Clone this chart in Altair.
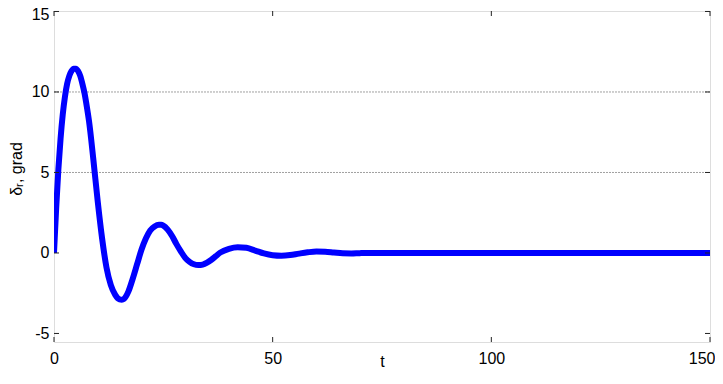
import altair as alt
import pandas as pd

# response curve
t_vals = [0, 0.5, 1, 1.5, 2, 2.5, 3, 3.5, 4, 4.5, 5, 5.5, 6, 6.5, 7, 7.5, 8, 9, 10, 11, 12, 13, 14, 15, 15.5,
          16, 17, 18, 19, 20, 21, 22, 23, 24, 24.5, 25, 26, 27, 28, 29, 30, 31, 32, 33, 34, 35, 36, 37,
          38, 40, 42, 44, 46, 48, 50, 52, 54, 56, 58, 60, 62, 64, 66, 68, 70, 74, 100, 150]
d_vals = [0, 2.8, 5.2, 7.1, 8.6, 9.7, 10.5, 11.0, 11.3, 11.45, 11.45, 11.3, 11.0, 10.5, 9.9, 9.1, 8.2, 5.8, 3.2, 0.9, -0.9, -2.0, -2.6, -2.88, -2.9,
          -2.85, -2.4, -1.6, -0.7, 0.2, 0.9, 1.4, 1.65, 1.75, 1.75, 1.7, 1.45, 1.05, 0.55, 0.1, -0.3, -0.55, -0.7, -0.75, -0.72, -0.6, -0.42, -0.2,
          0.02, 0.26, 0.36, 0.32, 0.15, -0.03, -0.14, -0.17, -0.13, -0.04, 0.04, 0.09, 0.08, 0.03, -0.02, -0.03, -0.01, 0, 0, 0]

x_ticks = [0, 50, 100, 150]
y_ticks = [-5, 0, 5, 10, 15]
grid_y = [5, 10]

W, H = 656, 331
XDOM = [0, 150]
YDOM = [-5.53, 15.03]

df = pd.DataFrame({"t": t_vals, "d": d_vals})
xs = alt.Scale(domain=XDOM, nice=False, zero=False)
ys = alt.Scale(domain=YDOM, nice=False, zero=False)

FONT = "Liberation Sans"
FS = 16

line = alt.Chart(df).mark_line(color="#0000ff", strokeWidth=6, interpolate="monotone", clip=True).encode(
    x=alt.X("t:Q", scale=xs, axis=alt.Axis(
        values=x_ticks, title="t", grid=False, ticks=False, tickSize=0, domain=False,
        labelFont=FONT, labelFontSize=FS, labelColor="black", labelPadding=8,
        labelExpr="datum.value", labelFlush=False,
        labelAlign=alt.expr("datum.value == 150 ? 'right' : 'center'"),
        labelOffset=alt.expr("datum.value == 150 ? 5 : 0"),
        titleFont=FONT, titleFontSize=FS, titleFontWeight="normal", titleColor="black",
        titleY=24, titleBaseline="alphabetic")),
    y=alt.Y("d:Q", scale=ys, axis=alt.Axis(
        values=y_ticks, title="δᵣ, grad", grid=False, ticks=False, tickSize=0, domain=False,
        labelFont=FONT, labelFontSize=FS, labelColor="black", labelPadding=5,
        labelExpr="datum.value", labelFlush=False,
        labelOffset=alt.expr("datum.value == 15 ? 3 : 0"),
        titleFont=FONT, titleFontSize=FS, titleFontWeight="normal", titleColor="black",
        titleX=-33, titleY=H / 2 - 8, titleAngle=270, titleBaseline="alphabetic")),
)

gdf = pd.DataFrame({"g": grid_y})
grid = alt.Chart(gdf).mark_rule(color="#a0a0a0", strokeWidth=1, strokeDash=[2, 1]).encode(
    y=alt.Y("g:Q", scale=ys), x=alt.value(0), x2=alt.value(W))

xt = pd.DataFrame({"v": x_ticks})
yt = pd.DataFrame({"v": y_ticks})
TK = 5
tick_col = "#222222"
bt = alt.Chart(xt).mark_rule(color=tick_col, strokeWidth=1).encode(
    x=alt.X("v:Q", scale=xs), y=alt.value(H), y2=alt.value(H - TK))
tt = alt.Chart(xt).mark_rule(color=tick_col, strokeWidth=1).encode(
    x=alt.X("v:Q", scale=xs), y=alt.value(0), y2=alt.value(TK))
lt = alt.Chart(yt).mark_rule(color=tick_col, strokeWidth=1).encode(
    y=alt.Y("v:Q", scale=ys), x=alt.value(0), x2=alt.value(TK))
rt = alt.Chart(yt).mark_rule(color=tick_col, strokeWidth=1).encode(
    y=alt.Y("v:Q", scale=ys), x=alt.value(W), x2=alt.value(W - TK))

chart = alt.layer(grid, line, bt, tt, lt, rt).properties(
    width=W, height=H,
    autosize=alt.AutoSizeParams(type="none"),
    padding={"left": 46, "top": 3, "right": 5, "bottom": 28},
).configure_view(stroke="#6e6e6e", strokeWidth=1.2).configure(background="white")

chart.save("out.html", embed_options={"renderer": "svg", "actions": False})
